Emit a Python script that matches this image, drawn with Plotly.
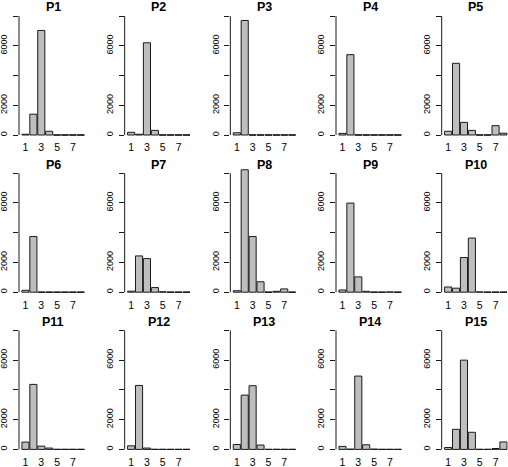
import plotly.graph_objects as go

# ---- data ----
categories = [1, 2, 3, 4, 5, 6, 7, 8]
p1 = [50, 1400, 7030, 250, 0, 0, 0, 0]
p2 = [180, 50, 6200, 310, 0, 0, 0, 0]
p3 = [150, 7700, 0, 0, 0, 0, 0, 0]
p4 = [110, 5400, 0, 0, 0, 0, 0, 0]
p5 = [250, 4820, 850, 310, 0, 0, 630, 120]
p6 = [130, 3740, 0, 0, 0, 0, 0, 0]
p7 = [70, 2440, 2260, 310, 30, 0, 0, 0]
p8 = [100, 8230, 3740, 700, 0, 60, 220, 0]
p9 = [150, 5990, 1030, 60, 0, 0, 20, 0]
p10 = [350, 270, 2330, 3640, 20, 0, 0, 0]
p11 = [490, 4370, 220, 90, 0, 0, 0, 0]
p12 = [240, 4300, 90, 0, 0, 0, 0, 0]
p13 = [330, 3650, 4280, 290, 0, 0, 0, 0]
p14 = [200, 20, 4930, 310, 20, 0, 0, 0]
p15 = [130, 1350, 6000, 1150, 0, 0, 60, 500]
panel_titles = ["P1", "P2", "P3", "P4", "P5", "P6", "P7", "P8", "P9", "P10",
                "P11", "P12", "P13", "P14", "P15"]
panel_values = [p1, p2, p3, p4, p5, p6, p7, p8, p9, p10, p11, p12, p13, p14, p15]
x_tick_vals = [1, 3, 5, 7]
y_tick_vals = [0, 2000, 4000, 6000, 8000]
y_tick_text = ["0", "2000", "", "6000", ""]

# ---- layout geometry (pixels) ----
W, H = 508, 467
FONT = "Liberation Sans, Arial, Helvetica, sans-serif"
COL_X0 = 19.0
COL_STEP = 105.67
XPPU = 7.9
X_RANGE = [0.18, 8.55]
ROW_ZERO0 = 135.0
ROW_STEP = 157.2
YPPU = 29.75 / 2000.0
Y_RANGE = [-330, 8400]
BARGAP = 0.1
BAR_FILL = "#BEBEBE"
BAR_LINE = "#1a1a1a"

fig = go.Figure()
shapes = []
annotations = []

for i, (title, vals) in enumerate(zip(panel_titles, panel_values)):
    r, c = divmod(i, 5)
    n = i + 1
    xa = "x" if n == 1 else f"x{n}"
    ya = "y" if n == 1 else f"y{n}"
    left = COL_X0 + COL_STEP * c
    right = left + (X_RANGE[1] - X_RANGE[0]) * XPPU
    zero = ROW_ZERO0 + ROW_STEP * r
    top = zero - Y_RANGE[1] * YPPU
    bottom = zero - Y_RANGE[0] * YPPU

    fig.add_trace(go.Bar(
        x=categories, y=vals, xaxis=xa, yaxis=ya,
        marker=dict(color=BAR_FILL, line=dict(color=BAR_LINE, width=1)),
        showlegend=False, hoverinfo="x+y",
    ))

    fig.layout[f"xaxis{'' if n == 1 else n}"] = dict(
        domain=[left / W, min(right / W, 1.0)], anchor=ya,
        range=X_RANGE, tickvals=x_tick_vals, ticks="", showline=False,
        showgrid=False, zeroline=False, fixedrange=True,
        tickfont=dict(family=FONT, size=10.5, color="#000000"),
    )
    fig.layout[f"yaxis{'' if n == 1 else n}"] = dict(
        domain=[1 - bottom / H, 1 - top / H], anchor=xa,
        range=Y_RANGE, tickvals=y_tick_vals, ticktext=y_tick_text,
        tickangle=-90, ticks="outside", ticklen=5, tickwidth=1,
        tickcolor="#1a1a1a", showline=False, showgrid=False,
        zeroline=False, fixedrange=True, ticklabelstandoff=2,
        tickfont=dict(family=FONT, size=9, color="#000000"),
    )
    # y axis line from first to last tick (as R draws it)
    shapes.append(dict(type="line", xref=f"{xa} domain", yref=ya,
                       x0=0, x1=0, y0=y_tick_vals[0], y1=y_tick_vals[-1],
                       line=dict(color="#1a1a1a", width=1)))
    # zero-height bars drawn as flat outline (as R's rect does)
    half = (1 - BARGAP) / 2
    for cat, v in zip(categories, vals):
        if v == 0:
            shapes.append(dict(type="line", xref=xa, yref=ya,
                               x0=cat - half, x1=cat + half, y0=0, y1=0,
                               line=dict(color=BAR_LINE, width=1)))
    # panel title
    annotations.append(dict(
        text=f"<b>{title}</b>", xref=xa, x=4.5, yref="paper",
        y=1 - (zero - 127.7) / H, xanchor="center", yanchor="middle",
        showarrow=False, font=dict(family=FONT, size=12.5, color="#000000"),
    ))

fig.update_layout(
    width=W, height=H, autosize=False,
    margin=dict(l=0, r=0, t=0, b=0),
    paper_bgcolor="white", plot_bgcolor="white",
    bargap=BARGAP, shapes=shapes, annotations=annotations,
    font=dict(family=FONT),
)

fig.write_html(
    "out.html",
    config={"displayModeBar": False},
    post_script="document.body.style.margin='0';document.body.style.overflow='hidden';",
)
